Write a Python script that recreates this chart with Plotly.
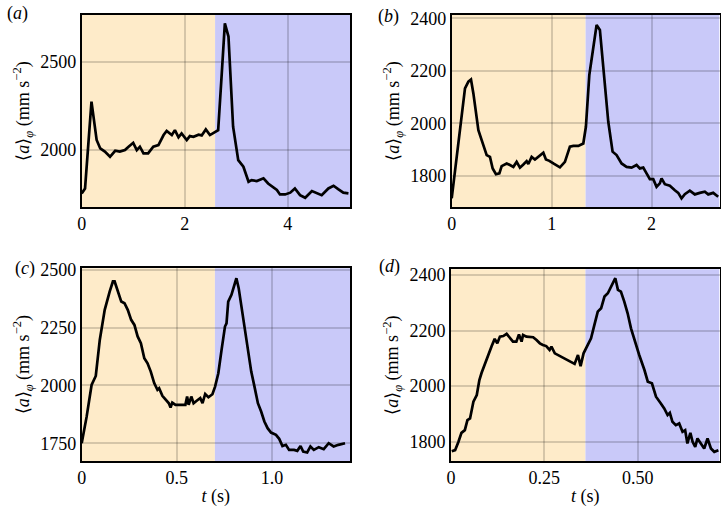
import plotly.graph_objects as go
from plotly.subplots import make_subplots

# ---------------- data ----------------
t_a = [0, 0.065, 0.19, 0.29, 0.36, 0.45, 0.55, 0.65, 0.74, 0.84, 0.91, 1.0, 1.07, 1.13, 1.20, 1.29,
       1.39, 1.49, 1.59, 1.65, 1.75, 1.81, 1.88, 1.94, 2.04, 2.10, 2.17, 2.27, 2.33, 2.41, 2.49, 2.59,
       2.65, 2.72, 2.78, 2.85, 2.94, 3.04, 3.14, 3.24, 3.30, 3.40, 3.53, 3.62, 3.72, 3.79, 3.85, 3.95,
       4.05, 4.14, 4.24, 4.34, 4.47, 4.56, 4.66, 4.79, 4.89, 4.98, 5.08, 5.18]
a_a = [1755, 1783, 2274, 2057, 2009, 1991, 1962, 1996, 1991, 2000, 2019, 2041, 2000, 2019, 1981, 1981,
       2019, 2028, 2085, 2108, 2085, 2113, 2072, 2094, 2057, 2079, 2075, 2087, 2083, 2117, 2085, 2104,
       2113, 2434, 2717, 2642, 2132, 1943, 1906, 1821, 1830, 1825, 1840, 1811, 1789, 1774, 1749, 1749,
       1759, 1783, 1745, 1730, 1768, 1759, 1745, 1783, 1798, 1779, 1759, 1755]

t_b = [0, 0.05, 0.10, 0.133, 0.167, 0.193, 0.217, 0.267, 0.30, 0.35, 0.383, 0.41, 0.443, 0.477, 0.50,
       0.55, 0.583, 0.617, 0.65, 0.683, 0.717, 0.75, 0.767, 0.80, 0.833, 0.883, 0.917, 0.943, 0.977,
       1.017, 1.05, 1.083, 1.133, 1.183, 1.217, 1.267, 1.317, 1.343, 1.377, 1.417, 1.45, 1.483, 1.517,
       1.567, 1.61, 1.65, 1.70, 1.75, 1.80, 1.85, 1.883, 1.917, 1.95, 1.983, 2.017, 2.05, 2.083, 2.10,
       2.133, 2.183, 2.233, 2.267, 2.30, 2.333, 2.383, 2.433, 2.483, 2.533, 2.567, 2.617, 2.667]
a_b = [1714, 1872, 2012, 2133, 2159, 2167, 2114, 1974, 1936, 1879, 1872, 1828, 1806, 1809, 1837,
       1847, 1841, 1834, 1853, 1831, 1843, 1856, 1845, 1872, 1862, 1879, 1888, 1862, 1857,
       1847, 1838, 1832, 1853, 1911, 1914, 1914, 1923, 1987, 2184, 2292, 2375, 2356, 2216,
       2006, 1892, 1879, 1847, 1834, 1831, 1841, 1828, 1831, 1809, 1787, 1787, 1758, 1771, 1790,
       1768, 1762, 1745, 1735, 1714, 1730, 1743, 1729, 1735, 1739, 1729, 1735, 1720]

t_c = [0, 0.026, 0.052, 0.074, 0.095, 0.121, 0.147, 0.164, 0.173, 0.19, 0.208, 0.225, 0.242, 0.26,
       0.277, 0.294, 0.311, 0.329, 0.346, 0.363, 0.381, 0.398, 0.407, 0.424, 0.441, 0.458, 0.467,
       0.476, 0.493, 0.519, 0.545, 0.554, 0.562, 0.576, 0.588, 0.606, 0.623, 0.635, 0.649, 0.666,
       0.687, 0.701, 0.718, 0.735, 0.753, 0.761, 0.77, 0.787, 0.813, 0.825, 0.839, 0.856, 0.874,
       0.891, 0.908, 0.926, 0.943, 0.96, 0.977, 0.995, 1.021, 1.038, 1.055, 1.073, 1.09, 1.116,
       1.133, 1.15, 1.164, 1.185, 1.202, 1.22, 1.246, 1.272, 1.298, 1.324, 1.349, 1.384]
a_c = [1750, 1865, 2002, 2041, 2197, 2327, 2406, 2450, 2450, 2406, 2363, 2356, 2327, 2284,
       2262, 2212, 2183, 2118, 2096, 2060, 2010, 1981, 1988, 1955, 1940, 1923, 1904,
       1926, 1916, 1916, 1916, 1952, 1916, 1952, 1923, 1935, 1945, 1923, 1963, 1949,
       1962, 1995, 2053, 2154, 2255, 2269, 2363, 2392, 2464, 2421, 2341, 2262, 2139,
       2060, 1995, 1923, 1887, 1844, 1815, 1796, 1786, 1769, 1738, 1743, 1721, 1721,
       1717, 1738, 1714, 1710, 1736, 1721, 1733, 1724, 1750, 1736, 1743, 1750]

t_d = [0.002, 0.011, 0.02, 0.028, 0.037, 0.044, 0.051, 0.06, 0.069, 0.076, 0.082, 0.091, 0.10, 0.109,
       0.117, 0.124, 0.131, 0.14, 0.149, 0.157, 0.166, 0.175, 0.182, 0.189, 0.193, 0.202, 0.211,
       0.22, 0.229, 0.238, 0.246, 0.255, 0.264, 0.269, 0.278, 0.286, 0.295, 0.304, 0.313, 0.322,
       0.331, 0.34, 0.347, 0.355, 0.367, 0.375, 0.384, 0.393, 0.402, 0.411, 0.42, 0.429, 0.44,
       0.447, 0.455, 0.464, 0.473, 0.482, 0.491, 0.504, 0.518, 0.527, 0.538, 0.549, 0.562, 0.571,
       0.58, 0.586, 0.593, 0.602, 0.611, 0.62, 0.627, 0.633, 0.641, 0.647, 0.654, 0.66, 0.669,
       0.678, 0.687, 0.696, 0.705, 0.716]
a_d = [1766, 1770, 1800, 1832, 1842, 1878, 1884, 1944, 1968, 2022, 2048, 2082, 2118, 2144,
       2170, 2154, 2178, 2180, 2188, 2176, 2160, 2160, 2186, 2160, 2184, 2178, 2176,
       2176, 2166, 2154, 2148, 2144, 2130, 2142, 2118, 2112, 2106, 2100, 2094, 2088,
       2080, 2112, 2072, 2118, 2154, 2172, 2220, 2268, 2280, 2322, 2334, 2358, 2388,
       2346, 2340, 2304, 2262, 2208, 2166, 2112, 2058, 2016, 2010, 1962, 1938, 1920,
       1896, 1904, 1872, 1860, 1866, 1836, 1842, 1794, 1832, 1800, 1782, 1812, 1794,
       1776, 1812, 1776, 1764, 1770]

panel_labels = ["a", "b", "c", "d"]
split_times = [2.59, 1.34, 0.70, 0.36]
x_ranges = [[0, 5.21], [0, 2.68], [0, 1.41], [0, 0.719]]
y_ranges = [[1678, 2764], [1681, 2413], [1673, 2507], [1731, 2420]]
x_tickvals = [[0, 2, 4], [0, 1, 2], [0, 0.5, 1.0], [0, 0.25, 0.5]]
x_ticktext = [["0", "2", "4"], ["0", "1", "2"], ["0", "0.5", "1.0"], ["0", "0.25", "0.50"]]
y_tickvals = [[2000, 2500], [1800, 2000, 2200, 2400], [1750, 2000, 2250, 2500], [1800, 2000, 2200, 2400]]

series_t = [t_a, t_b, t_c, t_d]
series_a = [a_a, a_b, a_c, a_d]

# ---------------- layout geometry (paper fractions) ----------------
W, H = 721, 510
x_domains = [[81.7 / W, 350 / W], [451.7 / W, 719.5 / W], [81.7 / W, 350 / W], [451 / W, 719.5 / W]]
y_domains = [[1 - 207 / H, 1 - 15 / H], [1 - 207 / H, 1 - 15 / H],
             [1 - 461 / H, 1 - 268.3 / H], [1 - 461 / H, 1 - 269.3 / H]]

FONT = "Liberation Serif, Times New Roman, serif"
YELLOW = "#FEEBC9"
BLUE = "#C9C9F9"
GRID = "rgba(0,0,0,0.16)"

fig = make_subplots(rows=2, cols=2)

for i in range(4):
    r, c = i // 2 + 1, i % 2 + 1
    fig.add_trace(go.Scatter(x=series_t[i], y=series_a[i], mode="lines",
                             line=dict(color="black", width=2.7), showlegend=False,
                             hoverinfo="skip"), row=r, col=c)
    xr = "x" if i == 0 else f"x{i+1}"
    yr = "y" if i == 0 else f"y{i+1}"
    # coloured phases
    fig.add_shape(type="rect", xref=xr, yref=f"{yr} domain", x0=x_ranges[i][0], x1=split_times[i],
                  y0=0, y1=1, fillcolor=YELLOW, line_width=0, layer="below")
    fig.add_shape(type="rect", xref=xr, yref=f"{yr} domain", x0=split_times[i], x1=x_ranges[i][1],
                  y0=0, y1=1, fillcolor=BLUE, line_width=0, layer="below")

    xa = dict(domain=x_domains[i], range=x_ranges[i], tickvals=x_tickvals[i], ticktext=x_ticktext[i],
              showgrid=True, gridcolor=GRID, gridwidth=1.5, zeroline=False,
              showline=True, linecolor="black", linewidth=1.6, mirror=True, ticks="",
              tickfont=dict(family=FONT, size=18, color="black"), automargin=False)
    if i >= 2:
        xa["title"] = dict(text="<i>t</i> (s)", font=dict(family=FONT, size=18, color="black"), standoff=2)
    ya = dict(domain=y_domains[i], range=y_ranges[i], tickvals=y_tickvals[i],
              showgrid=True, gridcolor=GRID, gridwidth=1.5, zeroline=False,
              showline=True, linecolor="black", linewidth=1.6, mirror=True, ticks="",
              tickfont=dict(family=FONT, size=18, color="black"), automargin=False,
              title=dict(text="⟨<i>a</i>⟩<sub><i>φ</i></sub> (mm s<sup>−2</sup>)",
                         font=dict(family=FONT, size=18, color="black"), standoff=6))
    fig.update_xaxes(xa, row=r, col=c)
    fig.update_yaxes(ya, row=r, col=c)

label_pos = [(17, 13), (388, 16), (25, 268), (389, 266)]
for lab, (px, py) in zip(panel_labels, label_pos):
    fig.add_annotation(text=f"(<i>{lab}</i>)", xref="paper", yref="paper", x=px / W, y=1 - py / H,
                       xanchor="center", yanchor="middle", showarrow=False,
                       font=dict(family=FONT, size=18, color="black"))

fig.update_layout(width=W, height=H, margin=dict(l=0, r=0, t=0, b=0),
                  paper_bgcolor="white", plot_bgcolor="white", hovermode=False,
                  font=dict(family=FONT, size=18, color="black"))

fig.write_html("out.html", config={"displayModeBar": False},
               post_script="document.body.style.margin='0';document.body.style.overflow='hidden';")
